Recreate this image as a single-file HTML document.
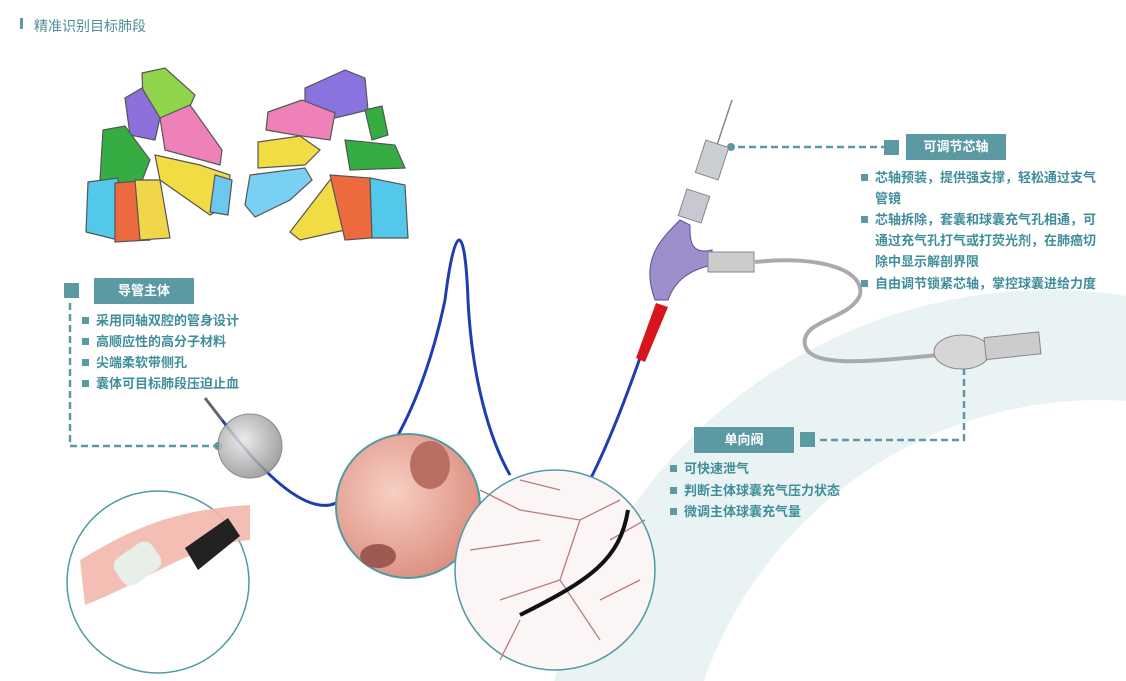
<!DOCTYPE html>
<html><head><meta charset="utf-8"><style>
html,body{margin:0;padding:0;background:#fff;width:1126px;height:681px;overflow:hidden;}
body{position:relative;font-family:"Liberation Sans","Noto Sans CJK SC",sans-serif;}
.t{position:absolute;color:#3f8e9a;font-weight:bold;font-size:13px;white-space:nowrap;}
.b{position:absolute;background:#5b9aa3;color:#fff;font-weight:bold;font-size:13px;text-align:center;line-height:26px;height:26px;}
.sq{position:absolute;background:#5b9aa3;}
.li{position:absolute;color:#3f8e9a;font-weight:bold;font-size:13px;white-space:nowrap;line-height:21px;}
.li.d::before{content:"";position:absolute;left:-14px;top:7px;width:7px;height:7px;background:#5b9aa3;}
</style></head><body>
<svg width="1126" height="681" style="position:absolute;left:0;top:0">
<defs>
<radialGradient id="pk" cx="40%" cy="40%" r="70%"><stop offset="0" stop-color="#f7cfc3"/><stop offset="1" stop-color="#d9897a"/></radialGradient>
<radialGradient id="gl" cx="40%" cy="40%" r="70%"><stop offset="0" stop-color="#e8e8e8"/><stop offset="1" stop-color="#8a8a8a"/></radialGradient>
</defs>
<circle cx="1050" cy="800" r="510" fill="#e9f3f3"/>
<circle cx="1100" cy="820" r="420" fill="#fff"/>
<rect x="20" y="18" width="3" height="11" fill="#5b9aa3"/>
<g stroke="#555" stroke-width="1.2">
<path d="M142 73 L165 68 L195 95 L186 115 L160 118 L143 100Z" fill="#8fd44a"/>
<path d="M125 98 L142 88 L160 118 L155 140 L130 135Z" fill="#8c6fd8"/>
<path d="M160 118 L190 105 L222 150 L220 165 L165 150Z" fill="#ee82b8"/>
<path d="M103 130 L125 126 L150 160 L140 186 L100 180Z" fill="#35ad43"/>
<path d="M155 155 L200 165 L230 175 L228 205 L210 215 L160 180Z" fill="#f2dc43"/>
<path d="M215 175 L232 180 L228 215 L210 212Z" fill="#6cc8ef"/>
<path d="M88 182 L118 178 L118 240 L86 232Z" fill="#54c8ea"/>
<path d="M115 183 L150 180 L150 240 L115 242Z" fill="#ec6a3e"/>
<path d="M135 180 L160 180 L170 238 L140 240Z" fill="#f0d648"/>
</g>
<g stroke="#555" stroke-width="1.2">
<path d="M305 88 L345 70 L365 78 L368 110 L335 118 L305 102Z" fill="#8a72df"/>
<path d="M268 112 L302 100 L335 113 L330 140 L295 135 L266 130Z" fill="#ee82b8"/>
<path d="M258 142 L300 136 L320 150 L305 165 L258 168Z" fill="#f2dc43"/>
<path d="M250 175 L305 168 L312 180 L290 200 L255 217 L245 205Z" fill="#7ad0f2"/>
<path d="M365 110 L382 106 L388 135 L372 140Z" fill="#35ad43"/>
<path d="M345 140 L395 145 L405 168 L350 170Z" fill="#35ad43"/>
<path d="M290 232 L330 180 L340 180 L345 230 L300 240Z" fill="#f2dc43"/>
<path d="M330 175 L370 178 L372 238 L345 240Z" fill="#ec6a3e"/>
<path d="M370 178 L405 185 L408 238 L372 238Z" fill="#54c8ea"/>
</g>
<g stroke="#5b9aa3" stroke-width="2.5" stroke-dasharray="7,4" fill="none">
<path d="M70 303 V446 H215"/>
<path d="M738 147 H884"/>
<path d="M820 440 H964 V362"/>
</g>
<circle cx="218" cy="446" r="4" fill="#5b9aa3"/>
<circle cx="731" cy="147" r="4" fill="#5b9aa3"/>
<circle cx="964" cy="358" r="4" fill="#5b9aa3"/>
<path d="M222 420 C260 470 300 510 330 505 C370 495 420 420 445 300 C455 220 465 220 468 300 C472 380 490 440 510 475" stroke="#1d3fae" stroke-width="3" fill="none"/>
<path d="M590 480 C610 440 625 400 640 358" stroke="#1d3fae" stroke-width="3" fill="none"/>
<path d="M205 398 L222 420" stroke="#666" stroke-width="3"/>
<circle cx="250" cy="446" r="32" fill="url(#gl)" stroke="#777" opacity="0.85"/>
<path d="M755 262 C820 255 865 270 860 295 C850 320 800 320 805 345 C810 370 880 360 940 355" stroke="#aaa" stroke-width="4" fill="none"/>
<ellipse cx="962" cy="352" rx="28" ry="17" fill="#d6d6d6" stroke="#888"/>
<rect x="985" y="335" width="55" height="22" fill="#ccc" stroke="#888" transform="rotate(-6 1010 346)"/>
<line x1="732" y1="100" x2="717" y2="145" stroke="#888" stroke-width="1.5"/>
<rect x="700" y="143" width="24" height="34" fill="#c9cfd2" stroke="#888" transform="rotate(18 712 160)"/>
<rect x="682" y="192" width="24" height="28" fill="#c8c8d2" stroke="#888" transform="rotate(18 694 206)"/>
<path d="M680 220 C660 240 640 260 655 300 L668 300 C675 280 690 270 712 265 L712 250 C690 255 690 240 690 225Z" fill="#9d8fcc" stroke="#5b4da0"/>
<rect x="708" y="252" width="46" height="20" fill="#ccc" stroke="#888"/>
<path d="M656 303 L668 307 L645 362 L636 358Z" fill="#d8141c"/>
<circle cx="158" cy="582" r="91" fill="#fff" stroke="#4f9aa3" stroke-width="1.5"/>
<path d="M80 560 C130 530 170 510 250 505 L250 540 C190 545 150 580 85 605Z" fill="#f2b8ac" opacity="0.9"/>
<path d="M185 548 L228 518 L240 536 L198 570Z" fill="#222"/>
<rect x="115" y="548" width="45" height="32" rx="10" fill="#e8efe8" transform="rotate(-35 137 564)"/>
<circle cx="408" cy="506" r="72" fill="url(#pk)" stroke="#4f9aa3" stroke-width="2"/>
<ellipse cx="430" cy="465" rx="20" ry="24" fill="#b86f62"/>
<ellipse cx="378" cy="556" rx="18" ry="12" fill="#9e5a52"/>
<circle cx="555" cy="570" r="100" fill="#fbf5f6" stroke="#4f9aa3" stroke-width="1.5"/>
<g stroke="#b87a88" stroke-width="1.3" fill="none">
<path d="M620 500 L580 520 L520 510 L480 490 M580 520 L560 580 L500 600 M560 580 L600 640 M540 540 L470 550 M600 600 L640 580 M520 620 L500 660 M610 540 L645 520 M560 490 L520 480"/>
</g>
<path d="M628 510 C620 560 590 580 520 615" stroke="#111" stroke-width="4" fill="none"/>
</svg>
<div class="t" style="left:34px;top:16px;font-size:14px;font-weight:normal;color:#4f8d98">精准识别目标肺段</div>
<div class="sq" style="left:64px;top:283px;width:15px;height:15px"></div>
<div class="b" style="left:94px;top:278px;width:100px">导管主体</div>
<div class="li d" style="left:96px;top:310px">采用同轴双腔的管身设计</div>
<div class="li d" style="left:96px;top:331px">高顺应性的高分子材料</div>
<div class="li d" style="left:96px;top:352px">尖端柔软带侧孔</div>
<div class="li d" style="left:96px;top:373px">囊体可目标肺段压迫止血</div>
<div class="sq" style="left:884px;top:140px;width:15px;height:15px"></div>
<div class="b" style="left:906px;top:134px;width:100px">可调节芯轴</div>
<div class="li d" style="left:875px;top:167px">芯轴预装，提供强支撑，轻松通过支气</div>
<div class="li" style="left:875px;top:188px">管镜</div>
<div class="li d" style="left:875px;top:209px">芯轴拆除，套囊和球囊充气孔相通，可</div>
<div class="li" style="left:875px;top:230px">通过充气孔打气或打荧光剂，在肺癌切</div>
<div class="li" style="left:875px;top:251px">除中显示解剖界限</div>
<div class="li d" style="left:875px;top:273px">自由调节锁紧芯轴，掌控球囊进给力度</div>
<div class="b" style="left:694px;top:427px;width:100px">单向阀</div>
<div class="sq" style="left:800px;top:432px;width:15px;height:15px"></div>
<div class="li d" style="left:684px;top:458px">可快速泄气</div>
<div class="li d" style="left:684px;top:480px">判断主体球囊充气压力状态</div>
<div class="li d" style="left:684px;top:501px">微调主体球囊充气量</div>
</body></html>
